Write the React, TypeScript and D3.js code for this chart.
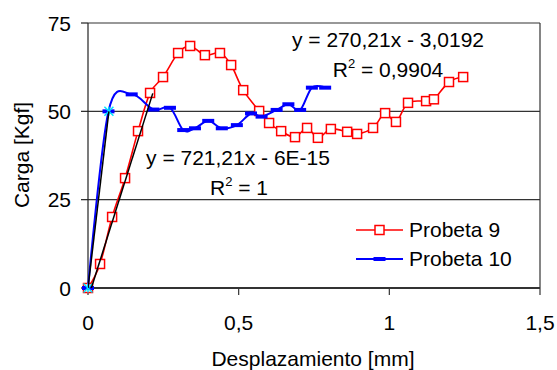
import React from "react";
import * as d3 from "d3";

const W = 557;
const H = 370;

// Probeta 9 (red, squares)
const p9X = [0, 0.04, 0.08, 0.123, 0.166, 0.206, 0.249, 0.299, 0.339, 0.388, 0.438, 0.475, 0.515, 0.568, 0.601, 0.641, 0.687, 0.727, 0.763, 0.806, 0.86, 0.893, 0.946, 0.986, 1.022, 1.062, 1.122, 1.148, 1.198, 1.245];
const p9Y = [0, 6.8, 20.1, 31.1, 44.4, 55.2, 59.7, 66.5, 68.5, 65.9, 66.5, 63.1, 56.0, 50.1, 46.7, 44.4, 42.7, 45.3, 42.5, 45.0, 44.2, 43.6, 45.3, 49.5, 47.0, 52.4, 52.9, 53.4, 58.3, 59.7];

// Probeta 10 (blue, dashes)
const p10X = [0, 0.068, 0.145, 0.217, 0.272, 0.316, 0.355, 0.399, 0.444, 0.494, 0.541, 0.576, 0.626, 0.665, 0.704, 0.743, 0.787];
const p10Y = [0, 50, 54.8, 50.5, 51.0, 44.7, 45.2, 47.3, 45.2, 46.1, 49.4, 48.5, 50.4, 52.0, 50.4, 56.7, 56.7];

// Auxiliary series (cyan stars)
const auxX = [0, 0.0693];
const auxY = [0, 50];

// Trendlines
const trendRed = { slope: 270.21, intercept: -3.0192, x0: 0, x1: 0.215 };
const trendAux = { slope: 721.21, intercept: 0, x0: 0, x1: 0.0693 };

const xTicks = [0, 0.5, 1, 1.5];
const xTickLabels = ["0", "0,5", "1", "1,5"];
const yTicks = [0, 25, 50, 75];
const yTickLabels = ["0", "25", "50", "75"];

const legendNames = ["Probeta 9", "Probeta 10"];

const FONT = "'Liberation Sans', Arial, sans-serif";
const FS = 21;

export default function App() {
  const left = 88, right = 540, top = 23, bottom = 288;
  const x = d3.scaleLinear().domain([0, 1.5]).range([left, right]);
  const y = d3.scaleLinear().domain([0, 75]).range([bottom, top]);

  const line = d3
    .line<[number, number]>()
    .x((d) => x(d[0]))
    .y((d) => y(d[1]))
    .curve(d3.curveCardinal.tension(0));
  const straight = d3
    .line<[number, number]>()
    .x((d) => x(d[0]))
    .y((d) => y(d[1]));

  const p9: [number, number][] = p9X.map((v, i) => [v, p9Y[i]]);
  const p10: [number, number][] = p10X.map((v, i) => [v, p10Y[i]]);
  const aux: [number, number][] = auxX.map((v, i) => [v, auxY[i]]);

  const trendPts = (t: typeof trendRed): [number, number][] => [
    [t.x0, t.slope * t.x0 + t.intercept],
    [t.x1, t.slope * t.x1 + t.intercept],
  ];

  const sq = 9;
  const star = (cx: number, cy: number, key: string) => {
    const r = 4.5;
    return (
      <g key={key} stroke="#00e5ff" strokeWidth={1.5}>
        <line x1={cx - r} y1={cy - r} x2={cx + r} y2={cy + r} />
        <line x1={cx - r} y1={cy + r} x2={cx + r} y2={cy - r} />
        <line x1={cx} y1={cy - r} x2={cx} y2={cy + r} />
      </g>
    );
  };

  return (
    <svg
      width={W}
      height={H}
      style={{ position: "absolute", left: 0, top: 0, background: "#fff" }}
      fontFamily={FONT}
    >
      <defs>
        <clipPath id="plotclip">
          <rect x={left} y={top} width={right - left} height={bottom - top} />
        </clipPath>
      </defs>

      {/* gridlines & frame */}
      {yTicks.slice(1).map((t) => (
        <line key={t} x1={left} x2={right} y1={y(t)} y2={y(t)} stroke="#333" strokeWidth={1.2} />
      ))}
      <line x1={right} x2={right} y1={top} y2={bottom} stroke="#333" strokeWidth={1.2} />
      <line x1={left} x2={left} y1={top} y2={bottom} stroke="#222" strokeWidth={1.2} />
      {yTicks.map((t) => (
        <line key={"yt" + t} x1={left - 7} x2={left} y1={y(t)} y2={y(t)} stroke="#222" strokeWidth={1.2} />
      ))}
      {xTicks.map((t) => (
        <line key={"xt" + t} x1={x(t)} x2={x(t)} y1={bottom} y2={bottom + 7} stroke="#333" strokeWidth={1.2} />
      ))}
      <line x1={left} x2={right} y1={bottom} y2={bottom} stroke="#333" strokeWidth={2} />

      {/* tick labels */}
      {yTicks.map((t, i) => (
        <text key={"yl" + t} x={71} y={y(t)} dy="0.36em" textAnchor="end" fontSize={FS} fill="#000">
          {yTickLabels[i]}
        </text>
      ))}
      {xTicks.map((t, i) => (
        <text key={"xl" + t} x={x(t)} y={330} textAnchor="middle" fontSize={FS} fill="#000">
          {xTickLabels[i]}
        </text>
      ))}

      {/* axis titles */}
      <text x={313} y={366} textAnchor="middle" fontSize={FS} fill="#000">
        Desplazamiento [mm]
      </text>
      <text
        transform={`translate(29,155) rotate(-90)`}
        textAnchor="middle"
        fontSize={FS}
        fill="#000"
      >
        Carga [Kgf]
      </text>

      {/* series */}
      <path d={line(p9) || ""} fill="none" stroke="#ff0000" strokeWidth={1.6} />
      {p9.map((d, i) => (
        <rect
          key={"s9" + i}
          x={x(d[0]) - sq / 2}
          y={y(d[1]) - sq / 2}
          width={sq}
          height={sq}
          fill="#fff"
          stroke="#ff0000"
          strokeWidth={1.5}
        />
      ))}
      <path d={line(p10) || ""} fill="none" stroke="#0000ff" strokeWidth={2} />
      {p10.map((d, i) => (
        <rect key={"s10" + i} x={x(d[0]) - 6} y={y(d[1]) - 2} width={12} height={4} fill="#0000ff" />
      ))}
      {aux.map((d, i) => star(x(d[0]), y(d[1]), "a" + i))}

      {/* trendlines */}
      <g clipPath="url(#plotclip)">
        <path d={straight(trendPts(trendRed)) || ""} stroke="#000" strokeWidth={1.5} fill="none" />
        <path d={straight(trendPts(trendAux)) || ""} stroke="#000" strokeWidth={1.5} fill="none" />
      </g>

      {/* equations */}
      <text x={388} y={47} textAnchor="middle" fontSize={FS} fill="#000">
        y = 270,21x - 3,0192
      </text>
      <text x={388} y={77} textAnchor="middle" fontSize={FS} fill="#000">
        R<tspan fontSize={13} dy={-9}>2</tspan>
        <tspan dy={9}> = 0,9904</tspan>
      </text>
      <text x={238} y={165} textAnchor="middle" fontSize={FS} fill="#000">
        y = 721,21x - 6E-15
      </text>
      <text x={239} y={195} textAnchor="middle" fontSize={FS} fill="#000">
        R<tspan fontSize={13} dy={-9}>2</tspan>
        <tspan dy={9}> = 1</tspan>
      </text>

      {/* legend */}
      <line x1={356} x2={403} y1={230} y2={230} stroke="#ff0000" strokeWidth={1.6} />
      <rect x={379.5 - sq / 2} y={230 - sq / 2} width={sq} height={sq} fill="#fff" stroke="#ff0000" strokeWidth={1.5} />
      <text x={409} y={237} fontSize={FS} fill="#000">{legendNames[0]}</text>
      <line x1={356} x2={403} y1={259} y2={259} stroke="#0000ff" strokeWidth={2} />
      <rect x={379.5 - 6} y={257} width={12} height={4} fill="#0000ff" />
      <text x={409} y={266} fontSize={FS} fill="#000">{legendNames[1]}</text>
    </svg>
  );
}
